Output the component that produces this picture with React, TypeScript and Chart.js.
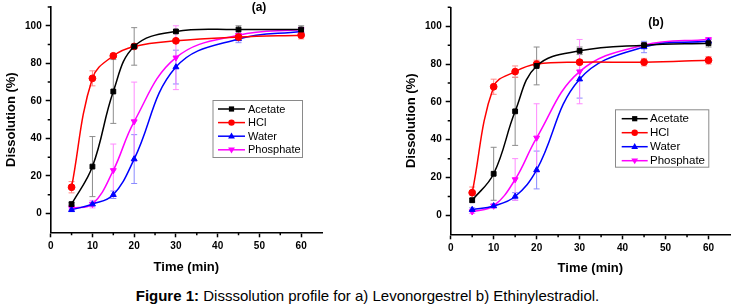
import React, { useEffect, useRef } from 'react';
import { Chart, registerables } from 'chart.js';

Chart.register(...registerables);

// ---------- data ----------
const timeMin = [5, 10, 15, 20, 30, 45, 60];
const seriesNames = ['Acetate', 'HCl', 'Water', 'Phosphate'];

// (a) Levonorgestrel
const aAcetate = [5, 25, 65, 89, 97, 98, 98];
const aAcetateErr = [1, 16, 17, 10, 1, 2, 2];
const aHCl = [14, 72, 84, 89, 92, 94, 95];
const aHClErr = [3, 4, 1, 1, 1, 1, 2];
const aWater = [2, 5, 10, 29, 78, 93, 97];
const aWaterErr = [1, 1, 2, 13, 9, 2, 1];
const aPhosphate = [3, 5, 23, 49, 83, 95, 98];
const aPhosphateErr = [1, 2, 14, 21, 17, 1, 1];

// (b) Ethinylestradiol
const bAcetate = [8, 22, 55, 79, 87, 90, 91];
const bAcetateErr = [1, 14, 18, 10, 2, 1, 2];
const bHCl = [12, 68, 76, 80, 81, 81, 82];
const bHClErr = [3, 4, 3, 2, 1, 2, 2];
const bWater = [3, 5, 10, 24, 72, 89, 92];
const bWaterErr = [1, 1, 2, 10, 10, 3, 1];
const bPhosphate = [2, 5, 19, 41, 76, 90, 93];
const bPhosphateErr = [1, 1, 11, 18, 17, 1, 1];

const xMajorTicks = [0, 10, 20, 30, 40, 50, 60];
const xMinorTicks = [5, 15, 25, 35, 45, 55];
const yMajorTicks = [0, 20, 40, 60, 80, 100];
const yMinorTicks = [10, 30, 50, 70, 90, 110];

// ---------- styles ----------
const FONT = "'Liberation Sans', Arial, Helvetica, sans-serif";
const lineColors = ['#000000', '#ff0000', '#0000ff', '#ff00ff'];
const errColors = ['#8c8c8c', '#ff8a8a', '#8a8aff', '#ff8aff'];
const pointStyles: any[] = ['rect', 'circle', 'triangle', 'triangle'];
const pointRotations = [0, 0, 0, 180];

function makeDatasets(vals: number[][], errs: number[][]) {
  return vals.map((v, i) => ({
    label: seriesNames[i],
    data: timeMin.map((t, j) => ({ x: t, y: v[j] })),
    errors: errs[i],
    errorColor: errColors[i],
    borderColor: lineColors[i],
    backgroundColor: lineColors[i],
    borderWidth: 1.5,
    pointStyle: pointStyles[i],
    pointRotation: pointRotations[i],
    pointRadius: 3.4,
    pointBorderWidth: 1,
    tension: 0.4,
    fill: false,
  }));
}

const errorBarPlugin = {
  id: 'errorBars',
  beforeDatasetsDraw(chart: any) {
    const ctx = chart.ctx;
    const yScale = chart.scales.y;
    chart.data.datasets.forEach((ds: any, i: number) => {
      const meta = chart.getDatasetMeta(i);
      ctx.save();
      ctx.strokeStyle = ds.errorColor;
      ctx.lineWidth = 1;
      meta.data.forEach((pt: any, j: number) => {
        const v = ds.data[j].y;
        const e = ds.errors[j];
        const x = pt.x;
        const y1 = yScale.getPixelForValue(v + e);
        const y2 = yScale.getPixelForValue(v - e);
        ctx.beginPath();
        ctx.moveTo(x, y1);
        ctx.lineTo(x, y2);
        ctx.moveTo(x - 3, y1);
        ctx.lineTo(x + 3, y1);
        ctx.moveTo(x - 3, y2);
        ctx.lineTo(x + 3, y2);
        ctx.stroke();
      });
      ctx.restore();
    });
  },
};

const minorTickPlugin = {
  id: 'minorTicks',
  afterDraw(chart: any) {
    const ctx = chart.ctx;
    const xs = chart.scales.x;
    const ys = chart.scales.y;
    const area = chart.chartArea;
    ctx.save();
    ctx.strokeStyle = '#000';
    ctx.lineWidth = 1.5;
    ctx.beginPath();
    xMinorTicks.forEach((v) => {
      const px = xs.getPixelForValue(v);
      ctx.moveTo(px, area.bottom);
      ctx.lineTo(px, area.bottom + 3);
    });
    yMinorTicks.forEach((v) => {
      const py = ys.getPixelForValue(v);
      ctx.moveTo(area.left, py);
      ctx.lineTo(area.left - 3, py);
    });
    ctx.stroke();
    ctx.restore();
  },
};

function drawMarker(ctx: CanvasRenderingContext2D, style: string, rot: number, x: number, y: number) {
  ctx.beginPath();
  if (style === 'rect') {
    ctx.rect(x - 2.6, y - 2.6, 5.2, 5.2);
  } else if (style === 'circle') {
    ctx.arc(x, y, 3.2, 0, Math.PI * 2);
  } else {
    const s = rot === 180 ? -1 : 1;
    ctx.moveTo(x, y - 3.6 * s);
    ctx.lineTo(x + 3.4, y + 2.2 * s);
    ctx.lineTo(x - 3.4, y + 2.2 * s);
    ctx.closePath();
  }
  ctx.fill();
}

const boxLegendPlugin = {
  id: 'boxLegend',
  afterDraw(chart: any, _args: any, opts: any) {
    const ctx = chart.ctx;
    ctx.save();
    ctx.strokeStyle = '#8a8a8a';
    ctx.lineWidth = 1;
    ctx.strokeRect(opts.left + 0.5, opts.top + 0.5, opts.width, opts.height);
    ctx.font = `${opts.fontSize}px ${FONT}`;
    ctx.textBaseline = 'middle';
    ctx.textAlign = 'left';
    chart.data.datasets.forEach((ds: any, i: number) => {
      const y = opts.firstRowY + i * opts.rowHeight;
      ctx.strokeStyle = ds.borderColor;
      ctx.fillStyle = ds.borderColor;
      ctx.lineWidth = 1.5;
      ctx.beginPath();
      ctx.moveTo(opts.lineX1, y);
      ctx.lineTo(opts.lineX2, y);
      ctx.stroke();
      drawMarker(ctx, ds.pointStyle, ds.pointRotation, (opts.lineX1 + opts.lineX2) / 2, y);
      ctx.fillStyle = '#000';
      ctx.fillText(ds.label, opts.textX, y + 0.5);
    });
    ctx.restore();
  },
};

type PanelProps = {
  left: number;
  width: number;
  height: number;
  datasets: any[];
  padding: { left: number; top: number; right: number; bottom: number };
  yWidth: number;
  xHeight: number;
  legend: any;
};

function Panel(props: PanelProps) {
  const ref = useRef<HTMLCanvasElement | null>(null);
  useEffect(() => {
    if (!ref.current) return;
    const tickFont = { family: FONT, size: 10, weight: 'bold' as const };
    const titleFont = { family: FONT, size: 13, weight: 'bold' as const };
    const chart = new Chart(ref.current, {
      type: 'line',
      data: { datasets: props.datasets },
      options: {
        responsive: false,
        animation: false,
        devicePixelRatio: 1,
        layout: { padding: props.padding },
        plugins: {
          legend: { display: false },
          tooltip: { enabled: false },
          boxLegend: props.legend,
        } as any,
        scales: {
          x: {
            type: 'linear',
            min: 0,
            max: 65,
            afterBuildTicks: (s: any) => {
              s.ticks = xMajorTicks.map((v) => ({ value: v }));
            },
            afterFit: (s: any) => {
              s.height = props.xHeight;
              s.paddingLeft = 0;
              s.paddingRight = 0;
            },
            grid: {
              drawOnChartArea: false,
              drawTicks: true,
              tickLength: 5,
              tickColor: '#000',
              tickWidth: 1.5,
            },
            border: { display: true, color: '#000', width: 1.6 },
            ticks: { font: tickFont, color: '#000', padding: 3, maxRotation: 0, autoSkip: false },
            title: { display: true, text: 'Time (min)', font: titleFont, color: '#000', padding: 4 },
          },
          y: {
            type: 'linear',
            min: -10,
            max: 110,
            afterBuildTicks: (s: any) => {
              s.ticks = yMajorTicks.map((v) => ({ value: v }));
            },
            afterFit: (s: any) => {
              s.width = props.yWidth;
              s.paddingTop = 0;
              s.paddingBottom = 0;
            },
            grid: {
              drawOnChartArea: false,
              drawTicks: true,
              tickLength: 5,
              tickColor: '#000',
              tickWidth: 1.5,
            },
            border: { display: true, color: '#000', width: 1.6 },
            ticks: { font: tickFont, color: '#000', padding: 4, autoSkip: false },
            title: { display: true, text: 'Dissolution (%)', font: titleFont, color: '#000', padding: 4 },
          },
        },
      },
      plugins: [errorBarPlugin, minorTickPlugin, boxLegendPlugin],
    });
    return () => chart.destroy();
  }, []);
  return (
    <canvas
      ref={ref}
      width={props.width}
      height={props.height}
      style={{ position: 'absolute', left: props.left, top: 0, width: props.width, height: props.height }}
    />
  );
}

export default function App() {
  const dsA = makeDatasets([aAcetate, aHCl, aWater, aPhosphate], [aAcetateErr, aHClErr, aWaterErr, aPhosphateErr]);
  const dsB = makeDatasets([bAcetate, bHCl, bWater, bPhosphate], [bAcetateErr, bHClErr, bWaterErr, bPhosphateErr]);
  return (
    <div
      style={{
        position: 'absolute',
        left: 0,
        top: 0,
        width: 735,
        height: 308,
        background: '#fff',
        overflow: 'hidden',
        fontFamily: FONT,
      }}
    >
      <Panel
        left={0}
        width={370}
        height={282}
        datasets={dsA}
        padding={{ left: 0, top: 7, right: 48, bottom: 3.2 }}
        yWidth={50.7}
        xHeight={46.5}
        legend={{
          left: 212.5,
          top: 100,
          width: 89.5,
          height: 57,
          firstRowY: 109,
          rowHeight: 13.6,
          lineX1: 218,
          lineX2: 245,
          textX: 248,
          fontSize: 11,
        }}
      />
      <Panel
        left={370}
        width={365}
        height={282}
        datasets={dsB}
        padding={{ left: 30, top: 7.3, right: 3.3, bottom: 1.9 }}
        yWidth={50.7}
        xHeight={45.8}
        legend={{
          left: 245,
          top: 109.3,
          width: 93.3,
          height: 57.4,
          firstRowY: 118.7,
          rowHeight: 14,
          lineX1: 251.7,
          lineX2: 277.7,
          textX: 280,
          fontSize: 11.5,
        }}
      />
      <div
        style={{
          position: 'absolute',
          left: 244,
          top: 0,
          width: 30,
          textAlign: 'center',
          fontWeight: 'bold',
          fontSize: 12,
          lineHeight: '15px',
        }}
      >
        (a)
      </div>
      <div
        style={{
          position: 'absolute',
          left: 641,
          top: 15,
          width: 30,
          textAlign: 'center',
          fontWeight: 'bold',
          fontSize: 12,
          lineHeight: '15px',
        }}
      >
        (b)
      </div>
      <div
        style={{
          position: 'absolute',
          left: 0,
          top: 287,
          width: 735,
          textAlign: 'center',
          fontSize: 15,
          lineHeight: '18px',
          color: '#000',
          whiteSpace: 'nowrap',
        }}
      >
        <b>Figure 1:</b> Disssolution profile for a) Levonorgestrel b) Ethinylestradiol.
      </div>
    </div>
  );
}
